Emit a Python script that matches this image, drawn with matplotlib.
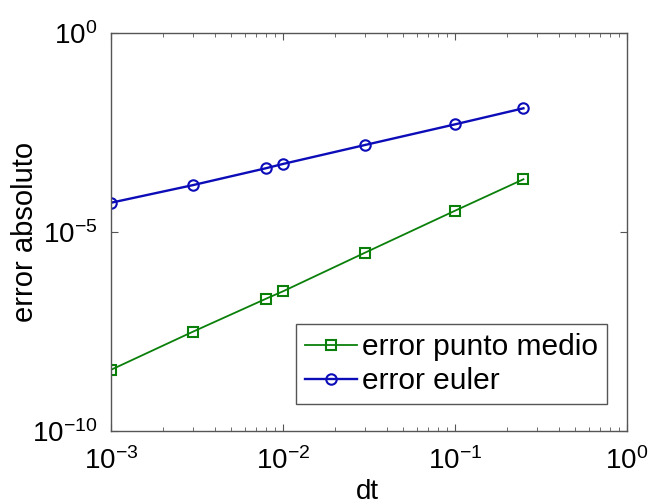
import matplotlib
matplotlib.use("Agg")
import matplotlib.pyplot as plt
from matplotlib.ticker import LogLocator, NullLocator

plt.rcParams['font.family'] = ['Liberation Sans', 'DejaVu Sans']
plt.rcParams['mathtext.fontset'] = 'custom'
plt.rcParams['mathtext.rm'] = 'Liberation Sans'
plt.rcParams['mathtext.it'] = 'Liberation Sans:italic'
plt.rcParams['mathtext.bf'] = 'Liberation Sans:bold'

dt = [0.001, 0.003, 0.008, 0.01, 0.03, 0.1, 0.25]
err_medio = [3.4e-9, 3.1e-8, 2.1e-7, 3.2e-7, 3.0e-6, 3.4e-5, 2.1e-4]
err_euler = [5.4e-5, 1.5e-4, 4.0e-4, 5.1e-4, 1.53e-3, 5.05e-3, 1.28e-2]

green = '#0a800a'
blue = '#0c0cb8'

fig = plt.figure(figsize=(6.54, 5.04), dpi=100)
ax = fig.add_axes([0.1697, 0.1454, 0.7890, 0.7891])

ax.loglog(dt, err_medio, '-s', color=green, lw=1.3, ms=6.5, mfc='none', mew=1.5,
          label='error punto medio')
ax.loglog(dt, err_euler, '-o', color=blue, lw=1.7, ms=7.5, mfc='none', mew=1.5,
          label='error euler')

ax.set_xlim(1e-3, 1e0)
ax.set_ylim(1e-10, 1e0)
ax.set_yticks([1e-10, 1e-5, 1e0])
ax.yaxis.set_minor_locator(NullLocator())
ax.xaxis.set_major_locator(LogLocator(base=10, numticks=10))
ax.xaxis.set_minor_locator(LogLocator(base=10, subs=range(2, 10), numticks=20))

for s in ax.spines.values():
    s.set_color('#555555')
    s.set_linewidth(1.0)
ax.tick_params(which='both', direction='in', top=True, right=True, colors='#555555',
               labelcolor='black', labelsize=20)
ax.tick_params(which='major', length=5)
ax.tick_params(which='minor', length=3)
ax.tick_params(axis='x', pad=12)
ax.tick_params(axis='y', pad=10)

ax.set_xlabel('dt', fontsize=20)
ax.set_ylabel('error absoluto', fontsize=21)
ax.xaxis.set_label_coords(0.496, -0.155)
ax.xaxis.label.set_va('center')
ax.yaxis.set_label_coords(-0.167, 0.5)
ax.yaxis.label.set_va('center')

leg = ax.legend(loc='lower right', bbox_to_anchor=(0.961, 0.067), borderaxespad=0,
                fontsize=21.5, fancybox=False, framealpha=1, handlelength=1.75,
                handletextpad=0.15, borderpad=0.3, labelspacing=0.2)
leg.get_frame().set_edgecolor('#555555')
leg.get_frame().set_linewidth(1.0)

fig.savefig('out.png', dpi=100, facecolor='white')
